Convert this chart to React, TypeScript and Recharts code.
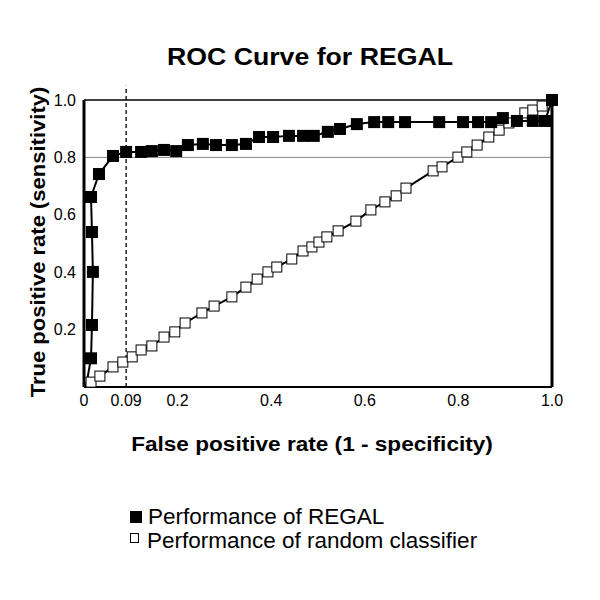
import { LineChart, Line, XAxis, YAxis, ReferenceLine } from 'recharts';

const FONT = '"Liberation Sans", Arial, sans-serif';

// REGAL ROC points (false positive rate, true positive rate)
const regalFpr = [0.004, 0.015, 0.017, 0.019, 0.017, 0.015, 0.032, 0.062, 0.09, 0.122, 0.145, 0.171, 0.197, 0.222, 0.254, 0.282, 0.316, 0.346, 0.374, 0.404, 0.438, 0.468, 0.491, 0.521, 0.547, 0.583, 0.62, 0.65, 0.686, 0.759, 0.81, 0.842, 0.87, 0.895, 0.925, 0.959, 0.985, 1.0];
const regalTpr = [0, 0.1, 0.216, 0.401, 0.54, 0.662, 0.742, 0.805, 0.819, 0.819, 0.822, 0.826, 0.822, 0.843, 0.847, 0.843, 0.843, 0.847, 0.871, 0.871, 0.875, 0.875, 0.875, 0.889, 0.899, 0.916, 0.923, 0.923, 0.923, 0.923, 0.923, 0.923, 0.923, 0.937, 0.927, 0.927, 0.927, 1.0];

// random classifier points
const randFpr = [0, 0.015, 0.034, 0.062, 0.083, 0.103, 0.122, 0.145, 0.171, 0.194, 0.216, 0.252, 0.278, 0.316, 0.346, 0.37, 0.393, 0.412, 0.444, 0.468, 0.487, 0.502, 0.519, 0.543, 0.581, 0.613, 0.643, 0.667, 0.688, 0.746, 0.765, 0.799, 0.818, 0.84, 0.865, 0.887, 0.908, 0.942, 0.959, 0.979];
const randTpr = [0, 0.017, 0.038, 0.07, 0.087, 0.105, 0.129, 0.143, 0.174, 0.192, 0.223, 0.258, 0.282, 0.314, 0.348, 0.376, 0.401, 0.418, 0.446, 0.474, 0.488, 0.505, 0.523, 0.544, 0.578, 0.617, 0.645, 0.666, 0.693, 0.753, 0.767, 0.801, 0.819, 0.843, 0.871, 0.895, 0.92, 0.955, 0.965, 0.979];

const xTicks = [0, 0.09, 0.2, 0.4, 0.6, 0.8, 1.0];
const yTicks = [0.2, 0.4, 0.6, 0.8, 1.0];
const cutoff = 0.09;

const regalData = regalFpr.map((x, i) => ({ x, y: regalTpr[i] }));
const randData = randFpr.map((x, i) => ({ x, y: randTpr[i] }));

const FilledDot = (props: any) => {
  const { cx, cy, index } = props;
  if (index === 0 || cx == null) return <g key={index} />;
  return <rect key={index} x={cx - 6} y={cy - 6} width={12} height={12} fill="#000" />;
};

const OpenDot = (props: any) => {
  const { cx, cy, index } = props;
  if (index === 0 || cx == null) return <g key={index} />;
  return <rect key={index} x={cx - 5} y={cy - 5} width={10} height={10} fill="#fff" stroke="#000" strokeWidth={1} />;
};

const fmtX = (v: number) => (v === 0 ? '0' : v === 0.09 ? '0.09' : v.toFixed(1));

export default function App() {
  return (
    <div style={{ position: 'relative', width: 600, height: 600, margin: -8, background: '#fff', fontFamily: FONT }}>
      <div
        style={{
          position: 'absolute', top: 44, left: 310, transform: 'translateX(-50%) scaleX(1.16)',
          whiteSpace: 'nowrap', fontSize: 23, fontWeight: 'bold',
        }}
      >
        ROC Curve for REGAL
      </div>
      <div
        style={{
          position: 'absolute', left: 38, top: 242, transform: 'translate(-50%, -50%) rotate(-90deg) scaleX(1.1)',
          whiteSpace: 'nowrap', fontSize: 20, fontWeight: 'bold',
        }}
      >
        True positive rate (sensitivity)
      </div>
      <div
        style={{
          position: 'absolute', top: 433, left: 312, transform: 'translateX(-50%) scaleX(1.13)',
          whiteSpace: 'nowrap', fontSize: 20, fontWeight: 'bold',
        }}
      >
        False positive rate (1 - specificity)
      </div>
      <LineChart width={600} height={600} margin={{ top: 100, right: 48, bottom: 183, left: 44 }}>
        <XAxis
          type="number"
          dataKey="x"
          domain={[0, 1]}
          ticks={xTicks}
          tickFormatter={fmtX}
          tickLine={false}
          axisLine={{ stroke: '#000', strokeWidth: 2 }}
          tick={{ fill: '#000', fontSize: 16, fontFamily: FONT }}
          height={30}
          interval={0}
        />
        <YAxis
          type="number"
          dataKey="y"
          domain={[0, 1]}
          ticks={yTicks}
          tickFormatter={(v: number) => v.toFixed(1)}
          tickLine={false}
          axisLine={{ stroke: '#000', strokeWidth: 3 }}
          tick={{ fill: '#000', fontSize: 16, fontFamily: FONT }}
          width={40}
          interval={0}
        />
        <ReferenceLine y={0.8} stroke="#888" strokeWidth={1} />
        <ReferenceLine y={1} stroke="#000" strokeWidth={1.5} />
        <ReferenceLine x={1} stroke="#000" strokeWidth={3} />
        <ReferenceLine
          segment={[{ x: cutoff, y: 0 }, { x: cutoff, y: 1.05 }]}
          stroke="#000"
          strokeWidth={1.3}
          strokeDasharray="4 3"
          ifOverflow="visible"
        />
        <Line
          data={randData}
          dataKey="y"
          type="linear"
          stroke="#000"
          strokeWidth={2}
          dot={OpenDot}
          isAnimationActive={false}
        />
        <Line
          data={regalData}
          dataKey="y"
          type="linear"
          stroke="#000"
          strokeWidth={2}
          dot={FilledDot}
          isAnimationActive={false}
        />
      </LineChart>
      <div style={{ position: 'absolute', left: 130, top: 505, fontSize: 22.5, lineHeight: '24px' }}>
        <div style={{ display: 'flex', alignItems: 'center' }}>
          <span style={{ display: 'inline-block', width: 12, height: 12, background: '#000', marginRight: 6 }} />
          Performance of REGAL
        </div>
        <div style={{ display: 'flex', alignItems: 'center' }}>
          <span style={{ display: 'inline-block', width: 7, height: 8, border: '1px solid #000', marginRight: 8, marginTop: -6 }} />
          Performance of random classifier
        </div>
      </div>
    </div>
  );
}
